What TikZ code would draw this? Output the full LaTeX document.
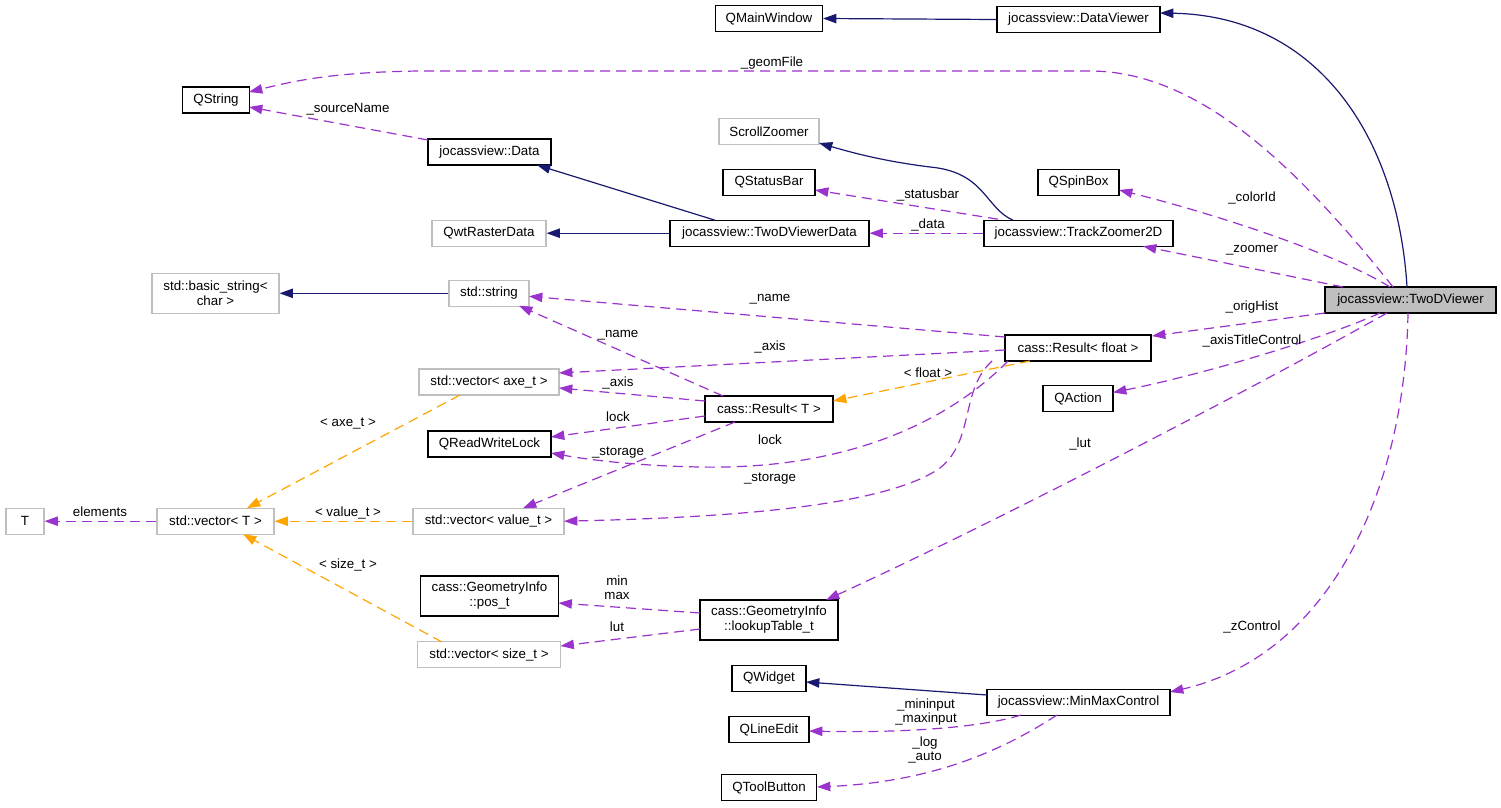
\documentclass[tikz,border=0pt]{standalone}
\usepackage{fontspec}
\setmainfont{Liberation Sans}
\usetikzlibrary{calc,arrows.meta}
\definecolor{navy}{HTML}{191970}
\definecolor{purp}{HTML}{9A32CD}
\definecolor{orng}{HTML}{FFA500}
\definecolor{gborder}{HTML}{BFBFBF}
\definecolor{tvfill}{HTML}{BFBFBF}
\tikzset{
 box/.style={draw=black,line width=0.8pt,fill=white,inner sep=0pt,align=center,font=\fontsize{10}{11.25}\selectfont,minimum height=19.5pt},
 gbox/.style={box,draw=gborder},
 tall/.style={minimum height=30pt},
 inh/.style={draw=navy,line width=0.9pt,-{Triangle[length=10pt,width=7pt]}},
 use/.style={draw=purp,line width=0.9pt,dash pattern=on 7.5pt off 4.5pt,-{Triangle[length=10pt,width=7pt]}},
 tmpl/.style={use,draw=orng},
 lbl/.style={inner sep=0pt,align=center,font=\fontsize{10}{10.5}\selectfont}
}
\begin{document}
\begin{tikzpicture}[x=0.75pt,y=-0.75pt]
\fill[white] (0,0) rectangle (1501,807);
\useasboundingbox (0,0) rectangle (1501,807);

% nodes
\node[box,minimum width=107*0.75pt] (qmw) at (769,18.5) {QMainWindow};
\node[box,minimum width=163*0.75pt] (dv) at (1078.5,19.5) {jocassview::DataViewer};
\node[box,minimum width=67*0.75pt] (qstr) at (216,100) {QString};
\node[box,minimum width=123*0.75pt] (data) at (489.5,152) {jocassview::Data};
\node[gbox,minimum width=100*0.75pt] (sz) at (769,131.5) {ScrollZoomer};
\node[box,minimum width=92*0.75pt] (qsb) at (769,182.5) {QStatusBar};
\node[gbox,minimum width=114*0.75pt] (qwt) at (489,233.2) {QwtRasterData};
\node[box,minimum width=199*0.75pt] (tvd) at (769.5,233.2) {jocassview::TwoDViewerData};
\node[box,minimum width=189*0.75pt] (tz) at (1078.5,233.2) {jocassview::TrackZoomer2D};
\node[box,minimum width=81*0.75pt] (qspin) at (1078.5,182.5) {QSpinBox};
\node[box,fill=tvfill,minimum width=171*0.75pt] (tv) at (1410.5,300) {jocassview::TwoDViewer};
\node[gbox,tall,minimum width=127*0.75pt] (bstr) at (215.5,293.3) {std::basic\_string<\\char >};
\node[gbox,minimum width=80*0.75pt] (str) at (489,293.3) {std::string};
\node[box,minimum width=146*0.75pt] (rf) at (1078,348) {cass::Result< float >};
\node[gbox,minimum width=140*0.75pt] (vaxe) at (489,382) {std::vector< axe\_t >};
\node[box,minimum width=128*0.75pt] (rt) at (769,409) {cass::Result< T >};
\node[box,minimum width=70*0.75pt] (qact) at (1078,398.5) {QAction};
\node[box,minimum width=123*0.75pt] (qrwl) at (489.5,444) {QReadWriteLock};
\node[gbox,minimum width=38*0.75pt] (T) at (25,521.2) {T};
\node[gbox,minimum width=117*0.75pt] (vT) at (215.5,521.2) {std::vector< T >};
\node[gbox,minimum width=151*0.75pt] (vval) at (488.5,521.2) {std::vector< value\_t >};
\node[box,tall,minimum width=138*0.75pt] (pos) at (489.5,596) {cass::GeometryInfo\\::pos\_t};
\node[gbox,minimum width=143*0.75pt] (vsize) at (489,654.5) {std::vector< size\_t >};
\node[box,tall,minimum width=138*0.75pt] (lut) at (769,620) {cass::GeometryInfo\\::lookupTable\_t};
\node[box,minimum width=74*0.75pt] (qw) at (769,678.5) {QWidget};
\node[box,minimum width=80*0.75pt] (qle) at (769,729.5) {QLineEdit};
\node[box,minimum width=95*0.75pt] (qtb) at (769,787.5) {QToolButton};
\node[box,minimum width=183*0.75pt] (mmc) at (1078.5,702.5) {jocassview::MinMaxControl};

% edges from TwoDViewer
\draw[inh] ($(tv)+(-3.5,-13)$) .. controls (1398,140) and (1320,16) .. ($(dv)+(81.5,-6.5)$);
\draw[use] ($(tv)+(-17.5,-13)$) .. controls (1300,170) and (1200,71) .. (1090,71) -- (420,71) .. controls (330,72) and (290,82) .. ($(qstr)+(33,-8)$);
\draw[use] ($(tv)+(-20.5,-13)$) .. controls (1330,250) and (1200,210) .. ($(qspin)+(40.5,7.5)$);
\draw[use] ($(tv)+(-67.5,-13)$) -- ($(tz)+(64.5,13)$);
\draw[use] ($(tv)+(-85.5,13)$) -- ($(rf)+(74,-12)$);
\draw[use] ($(tv)+(-30.5,13)$) .. controls (1320,340) and (1200,375) .. ($(qact)+(35,-6)$);
\draw[use] ($(tv)+(-23.5,13)$) .. controls (1250,390) and (1000,520) .. ($(lut)+(57,-20)$);
\draw[use] ($(tv)+(-2.5,13)$) .. controls (1405,490) and (1330,655) .. ($(mmc)+(91.5,-10.5)$);

% other edges
\draw[inh] (dv.west) -- (qmw.east);
\draw[inh] ($(tz)+(-65.5,-13)$) .. controls (985,208) and (985,172) .. (930,167) .. controls (890,162) and (860,155) .. ($(sz)+(50,11.5)$);
\draw[use] ($(tz)+(-80.5,-14)$) -- ($(qsb)+(46,7.5)$);
\draw[use] (tz.west) -- (tvd.east);
\draw[inh] ($(tvd)+(-54.5,-13)$) -- ($(data)+(47.5,13)$);
\draw[inh] (tvd.west) -- (qwt.east);
\draw[use] ($(data)+(-61.5,-12)$) -- ($(qstr)+(33,7)$);
\draw[inh] (str.west) -- (bstr.east);
\draw[use] ($(rf)+(-73,-11)$) -- ($(str)+(40,3)$);
\draw[use] ($(rf)+(-73,2)$) -- ($(vaxe)+(70,-9)$);
\draw[tmpl] ($(rf)+(-48,13)$) -- ($(rt)+(64,-8)$);
\draw[use] ($(rf)+(-70,13)$) .. controls (950,420) and (850,470) .. (700,467) .. controls (640,466) and (590,460) .. ($(qrwl)+(61.5,9)$);
\draw[use] ($(rf)+(-86,13)$) .. controls (960,390) and (975,440) .. (940,468) .. controls (880,510) and (700,518) .. ($(vval)+(75.5,0)$);
\draw[use] ($(rt)+(-46,-13)$) -- ($(str)+(30,12.5)$);
\draw[use] ($(rt)+(-64,-8)$) -- ($(vaxe)+(70,6)$);
\draw[use] ($(rt)+(-64,7)$) -- ($(qrwl)+(61.5,-7)$);
\draw[use] ($(rt)+(-34,13)$) -- ($(vval)+(34.5,-13)$);
\draw[tmpl] ($(vaxe)+(-29,13)$) -- ($(vT)+(31.5,-13)$);
\draw[tmpl] (vval.west) -- (vT.east);
\draw[use] (vT.west) -- (T.east);
\draw[tmpl] ($(vsize)+(-47,-12.5)$) -- ($(vT)+(27.5,13)$);
\draw[use] ($(lut)+(-69,-7)$) -- ($(pos)+(69,7)$);
\draw[use] ($(lut)+(-69,9)$) -- ($(vsize)+(71.5,-8.5)$);
\draw[inh] ($(mmc)+(-91.5,-7.5)$) -- ($(qw)+(37,3.5)$);
\draw[use] ($(mmc)+(-57.5,12.5)$) .. controls (980,728) and (900,733) .. ($(qle)+(40,1.5)$);
\draw[use] ($(mmc)+(-21.5,12.5)$) .. controls (1000,752) and (930,782) .. ($(qtb)+(48,-0.5)$);

% labels
\node[lbl] (l1) at (772,63) {\_geomFile};
\node[lbl] (l2) at (348,109) {\_sourceName};
\node[lbl] (l3) at (928,195) {\_statusbar};
\node[lbl] (l4) at (928,225) {\_data};
\node[lbl] (l5) at (1252,198) {\_colorId};
\node[lbl] (l6) at (1252,250) {\_zoomer};
\node[lbl] (l7) at (1252,307) {\_origHist};
\node[lbl] (l8) at (1252,341) {\_axisTitleControl};
\node[lbl] (l9) at (1080,444) {\_lut};
\node[lbl] (l10) at (1252,627) {\_zControl};
\node[lbl] (l11) at (770,299) {\_name};
\node[lbl] (l12) at (770,347) {\_axis};
\node[lbl] (l13) at (928,373) {< float >};
\node[lbl] (l14) at (770,440) {lock};
\node[lbl] (l15) at (770,479) {\_storage};
\node[lbl] (l16) at (618,335) {\_name};
\node[lbl] (l17) at (618,383) {\_axis};
\node[lbl] (l18) at (618,417) {lock};
\node[lbl] (l19) at (618,453) {\_storage};
\node[lbl] (l20) at (348,424) {< axe\_t >};
\node[lbl] (l21) at (348,513) {< value\_t >};
\node[lbl] (l22) at (100,512) {elements};
\node[lbl] (l23) at (348,565) {< size\_t >};
\node[lbl] (l24) at (617,588) {min\\max};
\node[lbl] (l25) at (617,627) {lut};
\node[lbl] (l26) at (926,712) {\_mininput\\\_maxinput};
\node[lbl] (l27) at (925,750) {\_log\\\_auto};
\end{tikzpicture}
\end{document}
